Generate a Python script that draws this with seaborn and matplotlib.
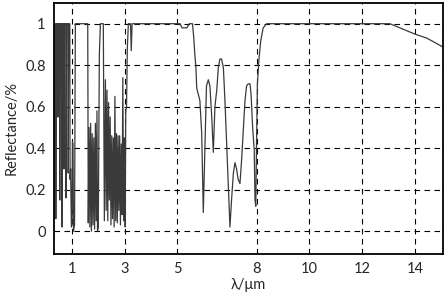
import numpy as np
import pandas as pd
import matplotlib
matplotlib.use("Agg")
import matplotlib.pyplot as plt
import seaborn as sns

# 波長 (µm) と反射率 — 図から読み取った値
wavelength = [
    0.32, 0.33, 0.38, 0.39, 0.41, 0.46, 0.47, 0.49, 0.53, 0.54, 0.56,
    0.61, 0.62, 0.64, 0.69, 0.70, 0.72, 0.77, 0.78, 0.80, 0.85, 0.86,
    0.88, 0.92, 0.93, 0.95, 0.98, 1.00, 1.02, 1.04, 1.06, 1.08, 1.10,
    1.13, 1.60, 1.62, 1.65, 1.68, 1.71, 1.74, 1.77, 1.80, 1.83, 1.86,
    1.89, 1.92, 1.95, 1.97, 2.00, 2.04, 2.08, 2.19, 2.23, 2.27, 2.30,
    2.33, 2.36, 2.39, 2.42, 2.45, 2.48, 2.51, 2.54, 2.57, 2.60, 2.63,
    2.66, 2.69, 2.72, 2.75, 2.78, 2.81, 2.84, 2.87, 2.90, 2.93, 2.96,
    2.99, 3.02, 3.04, 3.07, 3.10, 3.14, 3.22, 3.25, 3.28,
    5.10, 5.17, 5.36, 5.45, 5.57, 5.62, 5.66, 5.70, 5.73, 5.79, 5.85,
    5.92, 5.98, 6.04, 6.10, 6.17, 6.23, 6.30, 6.36, 6.42, 6.49, 6.55,
    6.61, 6.67, 6.74, 6.80, 6.86, 6.93, 6.99, 7.05, 7.12, 7.18, 7.24,
    7.30, 7.37, 7.43, 7.49, 7.56, 7.62, 7.68, 7.75, 7.79, 7.85, 7.91,
    7.94, 7.97, 8.00, 8.03, 8.09, 8.16, 8.25, 8.38,
    13.05, 13.43, 14.00, 14.46, 15.03,
]
reflectance = [
    0.06, 1.00, 1.00, 0.06, 1.00, 1.00, 0.55, 1.00, 1.00, 0.15, 1.00,
    1.00, 0.02, 1.00, 1.00, 0.30, 1.00, 1.00, 0.16, 1.00, 1.00, 0.28,
    1.00, 1.00, 0.25, 0.30, 0.02, 0.03, 0.43, 0.42, 0.00, 0.02, 0.03,
    1.00, 1.00, 0.04, 0.50, 0.02, 0.52, 0.00, 0.47, 0.03, 0.45, 0.01,
    0.52, 0.05, 0.58, 0.00, 0.02, 0.85, 1.00, 1.00, 0.05, 0.73, 0.10,
    0.68, 0.05, 0.62, 0.15, 0.55, 0.03, 0.46, 0.06, 0.45, 0.02, 0.65,
    0.05, 0.47, 0.04, 0.46, 0.10, 0.46, 0.03, 0.42, 0.08, 0.74, 0.05,
    0.45, 0.02, 0.58, 0.60, 0.88, 1.00, 1.00, 0.87, 1.00,
    1.00, 0.98, 0.98, 1.00, 1.00, 0.93, 0.85, 0.79, 0.69, 0.66, 0.63,
    0.47, 0.09, 0.39, 0.70, 0.73, 0.70, 0.55, 0.38, 0.60, 0.68, 0.79,
    0.83, 0.83, 0.79, 0.63, 0.44, 0.21, 0.02, 0.15, 0.28, 0.33, 0.30,
    0.25, 0.23, 0.34, 0.47, 0.63, 0.70, 0.71, 0.71, 0.66, 0.50, 0.39,
    0.15, 0.12, 0.45, 0.71, 0.83, 0.92, 0.98, 1.00,
    1.00, 0.98, 0.95, 0.93, 0.89,
]

x_ticks = [1, 3, 5, 8, 10, 12, 14]
y_ticks = [0, 0.2, 0.4, 0.6, 0.8, 1.0]
y_tick_labels = ['0', '0.2', '0.4', '0.6', '0.8', '1']

df = pd.DataFrame({'wl': wavelength, 'r': reflectance})

sns.set_style('white')
plt.rcParams['font.family'] = ['Lato', 'DejaVu Sans']

fig = plt.figure(figsize=(4.46, 2.96), dpi=100)
ax = fig.add_axes([0.121, 0.142, 0.872, 0.848])

sns.lineplot(data=df, x='wl', y='r', ax=ax, color='#3a3a3a', lw=0.9,
             sort=False, estimator=None)

ax.set_xlim(0.32, 15.06)
ax.set_ylim(-0.11, 1.1)
ax.set_xticks(x_ticks)
ax.set_xticklabels([str(t) for t in x_ticks])
ax.set_yticks(y_ticks)
ax.set_yticklabels(y_tick_labels)
ax.grid(True, color='black', linestyle=(0, (5, 4)), linewidth=0.8)
ax.tick_params(axis='both', labelsize=10.5, length=0, pad=6)
for s in ax.spines.values():
    s.set_color('black')
    s.set_linewidth(1.3)

ax.set_xlabel('λ/μm', fontsize=10.5, labelpad=1)
ax.set_ylabel('Reflectance/%', fontsize=10.5, labelpad=5)

fig.savefig('out.png', dpi=100)
